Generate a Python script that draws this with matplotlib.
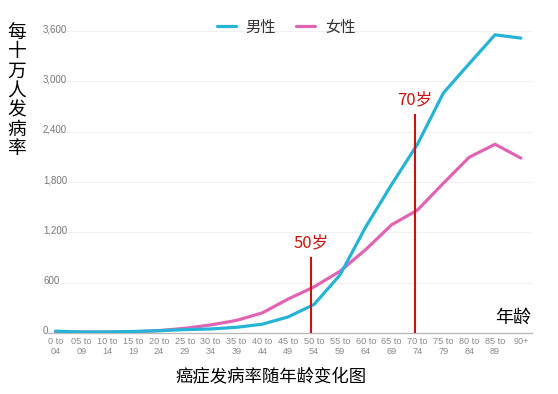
import matplotlib
matplotlib.use("Agg")
import matplotlib.pyplot as plt
from matplotlib.transforms import ScaledTranslation

cjk = ['Noto Sans CJK SC', 'DejaVu Sans']

# 年龄段
ages = ["0 to\n04", "05 to\n09", "10 to\n14", "15 to\n19", "20 to\n24",
        "25 to\n29", "30 to\n34", "35 to\n39", "40 to\n44", "45 to\n49",
        "50 to\n54", "55 to\n59", "60 to\n64", "65 to\n69", "70 to\n74",
        "75 to\n79", "80 to\n84", "85 to\n89", "90+"]

# 每十万人发病率
male = [22, 12, 12, 18, 28, 40, 48, 68, 105, 192,
        340, 690, 1265, 1770, 2250, 2860, 3210, 3555, 3515]
female = [15, 10, 10, 14, 28, 56, 96, 150, 240, 405,
          550, 735, 995, 1290, 1465, 1785, 2095, 2250, 2085]

yticks = [0, 600, 1200, 1800, 2400, 3000, 3600]

# 标注的年龄
marks = [(10, "50岁", 894, 1073), (14, "70岁", 2598, 2777)]

fig = plt.figure(figsize=(5.58, 3.94), dpi=100)
ax = fig.add_axes([48 / 558, 1 - 333 / 394, 484 / 558, 302 / 394])

x = list(range(len(ages)))
ax.plot(x, male, color='#25b4d6', lw=2.3, label='男性', solid_capstyle='round', zorder=3)
ax.plot(x, female, color='#e064b3', lw=2.3, label='女性', solid_capstyle='round', zorder=2)

ax.set_xlim(-0.29, 18.43)
ax.set_ylim(0, 3600)

# 网格线
ax.set_yticks(yticks)
ax.set_yticklabels([f"{v:,}" for v in yticks])
ax.grid(axis='y', color='#f0f0f0', lw=0.8)
ax.tick_params(axis='y', length=0, pad=3.6, labelsize=7, labelcolor='#777777')
for lab in ax.get_yticklabels():
    lab.set_horizontalalignment('left')
    lab.set_fontfamily('Liberation Sans')
    lab.set_transform(lab.get_transform() + ScaledTranslation(0, 2 / 72, fig.dpi_scale_trans))

ax.set_xticks(x)
ax.set_xticklabels(ages, fontsize=6.6, color='#888888', linespacing=1.05,
                   fontfamily='Liberation Sans')
ax.tick_params(axis='x', length=0, pad=3)

for s in ['top', 'right', 'left']:
    ax.spines[s].set_visible(False)
ax.spines['bottom'].set_color('#bbbbbb')
ax.spines['bottom'].set_linewidth(1)

# 红色竖线和标注
for pos, txt, top, ty in marks:
    ax.plot([pos - 0.1, pos - 0.1], [0, top], color='#cc1111', lw=1.5, zorder=4)
    ax.text(pos - 0.1, ty, txt, color='#cc1111', fontsize=12, ha='center', va='center',
            family=cjk)

ax.text(17.69, 179, "年龄", fontsize=13, ha='center', va='center', family=cjk,
        fontweight='medium')

fig.text(17 / 558, 1 - 22 / 394, "\n".join("每十万人发病率"), fontsize=13.5,
         ha='center', va='top', family=cjk, linespacing=0.9, fontweight='medium')

fig.text(271 / 558, 1 - 377 / 394, "癌症发病率随年龄变化图", fontsize=12.5,
         ha='center', va='center', family=cjk, fontweight='medium')

fig.legend(loc='center', bbox_to_anchor=(286 / 558, 1 - 27 / 394), ncol=2,
           frameon=False, prop={'family': cjk, 'size': 11}, labelcolor='#333333',
           handlelength=1.25, handletextpad=0.65, columnspacing=1.3)

fig.savefig("out.png", dpi=100)
